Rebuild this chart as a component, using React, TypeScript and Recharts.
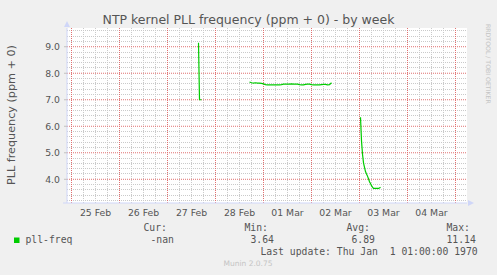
import { LineChart, Line, XAxis, YAxis, CartesianGrid, ReferenceLine } from "recharts"

// time axis: hours since 25 Feb 00:00, weekly graph => 30 min per pixel pair
const seg1Hours = [63.5, 64, 64.5, 65]
const seg1Values = [9.15, 7.0, 7.0, 7.0]

const seg2Hours = [
  89, 90, 91, 92, 93, 94, 95, 96, 97, 98, 99, 100, 101, 102, 103, 104, 105, 106, 107, 108, 109,
  110, 111, 112, 113, 114, 115, 116, 117, 118, 119, 120, 121, 122, 123, 124, 125, 126, 127, 128, 129, 130,
]
const seg2Values = [
  7.67, 7.64, 7.63, 7.64, 7.63, 7.63, 7.62, 7.6, 7.57, 7.56, 7.56, 7.56, 7.56, 7.56, 7.56, 7.56, 7.57,
  7.59, 7.59, 7.59, 7.59, 7.6, 7.59, 7.59, 7.59, 7.57, 7.56, 7.56, 7.58, 7.59, 7.59, 7.57, 7.56, 7.56,
  7.56, 7.56, 7.57, 7.58, 7.58, 7.56, 7.57, 7.64,
]

const seg3Hours = [
  144.5, 145, 145.5, 146, 146.5, 147, 147.5, 148, 148.5, 149, 149.5, 150, 150.5, 151, 151.5, 152,
  152.5, 153, 153.5, 154, 154.5,
]
const seg3Values = [
  6.34, 5.45, 4.95, 4.62, 4.45, 4.29, 4.2, 4.12, 4.02, 3.91, 3.84, 3.76, 3.7, 3.66, 3.66, 3.66, 3.66,
  3.66, 3.66, 3.67, 3.7,
]

const dayTicks = [12, 36, 60, 84, 108, 132, 156, 180]
const dayLabels = ["25 Feb", "26 Feb", "27 Feb", "28 Feb", "01 Mar", "02 Mar", "03 Mar", "04 Mar"]
const midnightLines = [0, 24, 48, 72, 96, 120, 144, 168, 192]
const sixHourLines = [
  6, 12, 18, 30, 36, 42, 54, 60, 66, 78, 84, 90, 102, 108, 114, 126, 132, 138, 150, 156, 162, 174,
  180, 186,
]
const yTicks = [4, 5, 6, 7, 8, 9]
const yMinorLines = [
  3.2, 3.4, 3.6, 3.8, 4.2, 4.4, 4.6, 4.8, 5.2, 5.4, 5.6, 5.8, 6.2, 6.4, 6.6, 6.8, 7.2, 7.4, 7.6, 7.8,
  8.2, 8.4, 8.6, 8.8, 9.2, 9.4, 9.6,
]

// quarter-hour shift puts vertical grid lines on pixel centres
const X_DOMAIN = [-2.25, 197.75]
const Y_DOMAIN = [3.106, 9.706]

const data = [
  ...seg1Hours.map((h, i) => ({ h, v: seg1Values[i] as number | null })),
  { h: 66, v: null },
  ...seg2Hours.map((h, i) => ({ h, v: seg2Values[i] as number | null })),
  { h: 131, v: null },
  ...seg3Hours.map((h, i) => ({ h, v: seg3Values[i] as number | null })),
]

const AXIS = "#cfd6f8"
const FONT = "#555555"
const MINOR = "#cacaca"
const MAJOR = "#e07070"

export default function App() {
  return (
    <div
      style={{
        position: "absolute",
        left: 0,
        top: 0,
        width: 497,
        height: 275,
        background: "#f0f0f0",
        overflow: "hidden",
      }}
    >
      <LineChart width={497} height={275} data={data} margin={{ top: 28, right: 30, bottom: 0, left: 0 }}>
        <XAxis
          dataKey="h"
          type="number"
          domain={X_DOMAIN}
          ticks={dayTicks}
          interval={0}
          allowDataOverflow
          height={72}
          tickLine={false}
          tickSize={0}
          tickMargin={6}
          axisLine={{ stroke: AXIS }}
          tick={{ fill: FONT, fontSize: 9.3, fontFamily: "DejaVu Sans" }}
          tickFormatter={(v: number) => dayLabels[dayTicks.indexOf(v)]}
        />
        <YAxis
          type="number"
          domain={Y_DOMAIN}
          ticks={yTicks}
          interval={0}
          allowDataOverflow
          width={67}
          tickSize={3}
          tickMargin={4}
          axisLine={{ stroke: AXIS }}
          tickLine={{ stroke: "#c0c0c0" }}
          tick={{ fill: FONT, fontSize: 9.3, fontFamily: "DejaVu Sans" }}
          tickFormatter={(v: number) => v.toFixed(1)}
        />
        <CartesianGrid fill="#ffffff" horizontal={false} vertical={false} />
        {sixHourLines.map((h) => (
          <ReferenceLine key={`vx${h}`} x={h} stroke={MINOR} strokeDasharray="1 1" />
        ))}
        {yMinorLines.map((v) => (
          <ReferenceLine key={`hy${v}`} y={v} stroke={MINOR} strokeDasharray="1 1" shapeRendering="crispEdges" />
        ))}
        {midnightLines.map((h) => (
          <ReferenceLine key={`mx${h}`} x={h} stroke={MAJOR} strokeDasharray="1 1" />
        ))}
        {yTicks.map((v) => (
          <ReferenceLine key={`my${v}`} y={v} stroke={MAJOR} strokeDasharray="1 1" />
        ))}
        <Line
          dataKey="v"
          type="linear"
          stroke="#00cc00"
          strokeWidth={1.2}
          dot={false}
          connectNulls={false}
          isAnimationActive={false}
        />
      </LineChart>
      <svg
        width={497}
        height={275}
        style={{ position: "absolute", left: 0, top: 0, pointerEvents: "none" }}
      >
        <line x1={63} y1={203} x2={67} y2={203} stroke={AXIS} />
        <polygon points="64,27 70,27 67,21" fill={AXIS} />
        <polygon points="468,200 468,206 474,203" fill={AXIS} />
        <text x={248.5} y={24} textAnchor="middle" fontSize={12.5} fontFamily="DejaVu Sans" fill={FONT}>
          NTP kernel PLL frequency (ppm + 0) - by week
        </text>
        <text
          x={15}
          y={115}
          transform="rotate(-90 15 115)"
          textAnchor="middle"
          fontSize={11.2}
          fontFamily="DejaVu Sans"
          fill={FONT}
        >
          PLL frequency (ppm + 0)
        </text>
        <text
          x={486}
          y={24}
          transform="rotate(90 486 24)"
          fontSize={6.2}
          fontFamily="DejaVu Sans"
          fill="#c4c4c4"
        >
          RRDTOOL / TOBI OETIKER
        </text>
        <g fontFamily="DejaVu Sans Mono" fontSize={9.75} fill={FONT} style={{ whiteSpace: "pre" }}>
          <text x={143.5} y={231.3}>Cur:</text>
          <text x={244.5} y={231.3}>Min:</text>
          <text x={346.5} y={231.3}>Avg:</text>
          <text x={446.5} y={231.3}>Max:</text>
          <rect x={14} y={237.5} width={5.5} height={5.5} fill="#00cc00" />
          <text x={25.5} y={242.8}>pll-freq</text>
          <text x={150.5} y={242.8}>-nan</text>
          <text x={250.5} y={242.8}>3.64</text>
          <text x={351.5} y={242.8}>6.89</text>
          <text x={446.5} y={242.8}>11.14</text>
          <text x={260.5} y={255.3} xmlSpace="preserve">Last update: Thu Jan  1 01:00:00 1970</text>
        </g>
        <text x={248} y={266} textAnchor="middle" fontSize={7.5} fontFamily="DejaVu Sans" fill="#c4c4c4">
          Munin 2.0.75
        </text>
      </svg>
    </div>
  )
}
